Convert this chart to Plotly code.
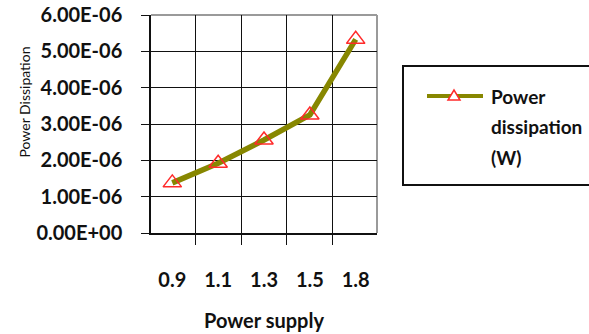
import plotly.graph_objects as go

# Power dissipation (W) measured at each supply voltage
supply_labels = ["0.9", "1.1", "1.3", "1.5", "1.8"]
power_dissipation = [1.38e-6, 1.92e-6, 2.56e-6, 3.25e-6, 5.33e-6]
y_ticks = [0, 1e-6, 2e-6, 3e-6, 4e-6, 5e-6, 6e-6]
y_tick_text = [f"{v:.2E}" for v in y_ticks]
series_name = "Power dissipation (W)"

W, H = 589, 334
L, R, T, B = 151, 212, 15, 101
PW, PH = W - L - R, H - T - B

LINE_COLOR = "#878700"
MARK_COLOR = "#ff2a2a"
FONT = "Lato"


def px(x):
    return (x - L) / PW


def py(y):
    return 1 - (y - T) / PH


fig = go.Figure()
fig.add_trace(go.Scatter(
    x=supply_labels, y=power_dissipation, name=series_name,
    mode="lines+markers",
    line=dict(color=LINE_COLOR, width=5.5),
    marker=dict(symbol="triangle-up-open", size=16, color=MARK_COLOR,
                line=dict(width=1.5, color=MARK_COLOR)),
    showlegend=False,
))

tick_font = dict(family=FONT, size=20, color="#111111", weight="bold")

fig.update_xaxes(
    type="category", tickson="boundaries",
    showgrid=True, gridcolor="#111111", gridwidth=1.3,
    showline=True, linecolor="#111111", linewidth=1.5,
    ticks="outside", ticklen=10, tickcolor="#111111", tickwidth=1.3,
    ticklabelstandoff=28, tickfont=tick_font,
    title=dict(text="Power supply", font=tick_font, standoff=24),
)
fig.update_yaxes(
    range=[0, 6e-6], tickvals=y_ticks, ticktext=y_tick_text,
    showgrid=True, gridcolor="#111111", gridwidth=1.3, zeroline=False,
    showline=True, linecolor="#111111", linewidth=1.5,
    ticks="outside", ticklen=8, tickcolor="#111111", tickwidth=1.3,
    ticklabelstandoff=15, tickfont=tick_font,
)

shapes = [
    # grey frame on the top and right edges of the plot area
    dict(type="line", xref="paper", yref="paper", x0=0, x1=1, y0=1, y1=1,
         line=dict(color="#9a9a9a", width=2), layer="between"),
    dict(type="line", xref="paper", yref="paper", x0=1, x1=1, y0=0, y1=1,
         line=dict(color="#9a9a9a", width=2), layer="between"),
    # legend box
    dict(type="rect", xref="paper", yref="paper",
         x0=px(403), x1=px(610), y0=py(185), y1=py(66),
         line=dict(color="#111111", width=2), fillcolor="white"),
    # legend line sample
    dict(type="line", xref="paper", yref="paper",
         x0=px(427), x1=px(483), y0=py(96), y1=py(96),
         line=dict(color=LINE_COLOR, width=4)),
    # legend marker sample
    dict(type="path", xref="paper", yref="paper",
         xsizemode="pixel", ysizemode="pixel",
         xanchor=px(454), yanchor=py(96),
         path="M -6,-4 L 6,-4 L 0,6 Z",
         line=dict(color=MARK_COLOR, width=1.5), fillcolor="white"),
]

legend_font = dict(family=FONT, size=19, color="#111111", weight="bold")
annotations = [
    dict(text="Power Dissipation", xref="paper", yref="paper",
         x=px(14), y=py(102), textangle=-90, showarrow=False,
         font=dict(family=FONT, size=14, color="#111111")),
]
for word, yy in zip(["Power", "dissipation", "(W)"], [96, 126.5, 157]):
    annotations.append(dict(text=word, xref="paper", yref="paper",
                            x=px(489), y=py(yy), xanchor="left",
                            yanchor="middle", showarrow=False,
                            font=legend_font))

fig.update_layout(
    width=W, height=H,
    margin=dict(l=L, r=R, t=T, b=B, autoexpand=False),
    paper_bgcolor="white", plot_bgcolor="white",
    shapes=shapes, annotations=annotations,
)

fig.write_html("out.html")
